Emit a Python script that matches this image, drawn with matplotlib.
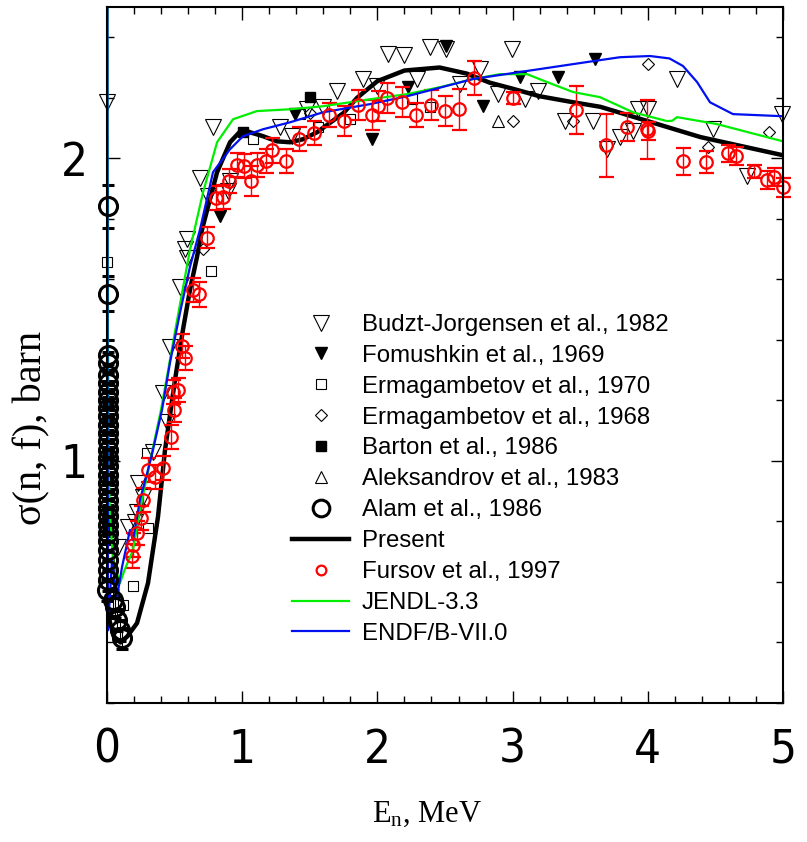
import os
import matplotlib
matplotlib.use("Agg")
import matplotlib.pyplot as plt
from matplotlib.lines import Line2D
from matplotlib.ticker import MultipleLocator
from matplotlib import font_manager

# --- data (E in MeV, sigma in barn) ---
present_e = [0.02, 0.05, 0.10, 0.15, 0.222, 0.303, 0.377, 0.429, 0.503, 0.562, 0.614, 0.666,
             0.703, 0.814, 0.91, 1.0, 1.058, 1.154, 1.257, 1.354, 1.45, 1.553, 1.75, 1.85,
             2.0, 2.2, 2.46, 2.66, 2.83, 3.0, 3.2, 3.45, 3.65, 4.02, 4.39, 5.0]
present_xs = [0.47, 0.42, 0.40, 0.42, 0.464, 0.596, 0.815, 1.036, 1.268, 1.434, 1.566, 1.675,
              1.765, 1.954, 2.053, 2.096, 2.086, 2.073, 2.056, 2.053, 2.063, 2.086, 2.15, 2.20,
              2.255, 2.29, 2.30, 2.28, 2.25, 2.23, 2.205, 2.185, 2.17, 2.12, 2.07, 2.01]

jendl_e = [0.003, 0.005, 0.010, 0.022, 0.044, 0.096, 0.13, 0.192, 0.244, 0.30, 0.40, 0.50,
           0.614, 0.71, 0.814, 0.932, 1.109, 1.354, 1.598, 1.945, 2.219, 2.463, 2.707, 2.907,
           3.107, 3.254, 3.447, 3.646, 3.891, 4.142, 4.18, 4.216, 4.512, 5.0]
jendl_xs = [2.6, 1.6, 1.0, 0.828, 0.672, 0.596, 0.64, 0.705, 0.838, 0.96, 1.17, 1.42,
            1.699, 1.887, 2.053, 2.129, 2.156, 2.162, 2.172, 2.195, 2.212, 2.235, 2.262, 2.278,
            2.278, 2.252, 2.219, 2.202, 2.152, 2.123, 2.124, 2.136, 2.113, 2.056]

endf_e = [0.003, 0.004, 0.007, 0.037, 0.074, 0.111, 0.17, 0.192, 0.244, 0.303, 0.34, 0.407,
          0.466, 0.54, 0.614, 0.688, 0.784, 0.91, 1.006, 1.154, 1.354, 1.598, 1.945, 2.219,
          2.707, 3.203, 3.595, 3.794, 4.016, 4.16, 4.26, 4.364, 4.46, 4.63, 5.0]
endf_xs = [2.6, 1.2, 0.44, 0.672, 0.55, 0.649, 0.772, 0.738, 0.871, 0.97, 1.036, 1.169,
           1.325, 1.49, 1.642, 1.765, 1.954, 2.03, 2.073, 2.096, 2.119, 2.152, 2.179, 2.205,
           2.262, 2.295, 2.321, 2.334, 2.338, 2.33, 2.305, 2.252, 2.185, 2.146, 2.139]

budzt_e = [0.0, 0.784, 0.688, 0.747, 0.895, 0.592, 0.577, 0.592, 0.540, 0.466, 0.414, 0.444,
           0.340, 0.229, 0.266, 0.222, 0.207, 0.155, 0.081, 0.910, 1.280, 1.368, 1.479, 1.598,
           1.701, 1.893, 1.997, 2.078, 2.197, 2.293, 2.389, 2.507, 2.611, 2.759, 2.892, 2.996,
           3.092, 3.188, 3.388, 3.595, 3.698, 3.794, 3.891, 3.928, 4.001, 4.216, 4.482, 4.734, 4.993]
budzt_xs = [2.185, 2.103, 1.934, 1.874, 1.891, 1.732, 1.699, 1.672, 1.576, 1.377, 1.225, 1.129,
            1.030, 0.927, 0.881, 0.831, 0.798, 0.781, 0.715, 1.924, 2.103, 2.073, 2.162, 2.169,
            2.222, 2.262, 2.238, 2.344, 2.341, 2.262, 2.368, 2.361, 2.245, 2.295, 2.212, 2.361,
            2.195, 2.222, 2.123, 2.123, 2.030, 2.070, 2.089, 2.162, 2.162, 2.262, 2.096, 1.940, 2.146]

fomushkin_e = [0.836, 1.39, 1.96, 2.226, 2.507, 2.781, 3.055, 3.336, 3.609]
fomushkin_xs = [1.808, 2.146, 2.063, 2.235, 2.371, 2.172, 2.268, 2.268, 2.328]

erma70_e = [0.0, 0.769, 0.118, 0.192, 0.303, 0.296, 1.080, 1.428, 1.561, 1.797, 2.256, 2.389]
erma70_xs = [1.656, 1.626, 0.523, 0.586, 0.778, 1.026, 2.063, 2.146, 2.103, 2.129, 2.195, 2.169]

erma68_e = [0.710, 1.50, 3.003, 3.447, 4.001, 4.445, 4.896]
erma68_xs = [1.699, 2.15, 2.123, 2.123, 2.311, 2.036, 2.086]

barton_e = [1.006, 1.502]
barton_xs = [2.086, 2.202]

aleks_e = [2.892]
aleks_xs = [2.123]

alam_e = [0.004, 0.004, 0.004, 0.004, 0.004, 0.004, 0.004, 0.004, 0.004, 0.004, 0.004, 0.004,
          0.004, 0.004, 0.004, 0.004, 0.004, 0.004, 0.004, 0.004, 0.004, 0.004, 0.004, 0.004,
          0.004, 0.004, 0.004, 0.004, 0.004, 0.002, 0.044, 0.059, 0.074, 0.096, 0.111]
alam_xs = [1.841, 1.553, 1.351, 1.325, 1.285, 1.258, 1.228, 1.202, 1.175, 1.149, 1.119, 1.093,
           1.066, 1.036, 1.010, 0.983, 0.954, 0.927, 0.901, 0.871, 0.844, 0.818, 0.788, 0.762,
           0.735, 0.705, 0.672, 0.639, 0.606, 0.573, 0.540, 0.517, 0.474, 0.440, 0.414]
alam_err = [0.07, 0.058, 0.05] + [0.035] * 32

fursov_e = [0.185, 0.192, 0.222, 0.251, 0.266, 0.303, 0.355, 0.414, 0.473, 0.488, 0.496, 0.525,
            0.555, 0.577, 0.636, 0.68, 0.74, 0.806, 0.858, 0.902, 0.962, 1.013, 1.065, 1.109,
            1.176, 1.22, 1.324, 1.42, 1.531, 1.642, 1.753, 1.857, 1.96, 2.004, 2.071, 2.182,
            2.285, 2.396, 2.5, 2.604, 2.714, 3.003, 3.469, 3.691, 3.846, 3.994, 4.0, 4.26,
            4.43, 4.593, 4.652, 4.786, 4.882, 4.933, 5.0]
fursov_xs = [0.685, 0.722, 0.762, 0.811, 0.871, 0.970, 0.947, 0.977, 1.079, 1.228, 1.169, 1.235,
             1.381, 1.341, 1.566, 1.550, 1.738, 1.868, 1.871, 1.924, 1.977, 1.974, 1.924, 1.977,
             1.990, 2.026, 1.990, 2.063, 2.083, 2.142, 2.123, 2.175, 2.142, 2.172, 2.199, 2.185,
             2.142, 2.175, 2.156, 2.162, 2.265, 2.199, 2.159, 2.043, 2.103, 2.096, 2.089, 1.990,
             1.987, 2.017, 2.007, 1.957, 1.927, 1.937, 1.904]
fursov_err = [0.04, 0.04, 0.04, 0.04, 0.04, 0.04, 0.04, 0.04, 0.04, 0.04, 0.04, 0.04,
              0.04, 0.04, 0.04, 0.04, 0.035, 0.04, 0.04, 0.04, 0.04, 0.04, 0.05, 0.04,
              0.04, 0.04, 0.04, 0.04, 0.04, 0.04, 0.05, 0.05, 0.05, 0.05, 0.05, 0.05,
              0.04, 0.05, 0.05, 0.068, 0.056, 0.02, 0.08, 0.105, 0.047, 0.097, 0.03, 0.045,
              0.036, 0.028, 0.03, 0.022, 0.03, 0.03, 0.031]

labels = ["Budzt-Jorgensen et al., 1982", "Fomushkin et al., 1969", "Ermagambetov et al., 1970",
          "Ermagambetov et al., 1968", "Barton et al., 1986", "Aleksandrov et al., 1983",
          "Alam et al., 1986", "Present", "Fursov et al., 1997", "JENDL-3.3", "ENDF/B-VII.0"]

# narrow regular font for the big tick numbers if one is around
tick_prop = font_manager.FontProperties(family="Liberation Sans")
for f in font_manager.fontManager.ttflist:
    base = os.path.basename(f.fname)
    if base in ("LiberationSansNarrow-Regular.ttf", "DejaVuSansCondensed.ttf"):
        tick_prop = font_manager.FontProperties(fname=f.fname)
        if base.startswith("Liberation"):
            break

plt.rcParams["font.family"] = "Liberation Sans"
plt.rcParams["mathtext.fontset"] = "custom"
plt.rcParams["mathtext.rm"] = "Liberation Serif"
plt.rcParams["mathtext.it"] = "Liberation Serif:italic"

fig = plt.figure(figsize=(8.07, 8.42), dpi=100)
ax = fig.add_axes([0.1326, 0.1651, 0.8377, 0.8266])

ax.plot(budzt_e, budzt_xs, "v", ms=11.5, mfc="none", mec="black", mew=0.8, clip_on=False)
ax.plot(fomushkin_e, fomushkin_xs, "v", ms=8.5, color="black", clip_on=False)
ax.plot(erma70_e, erma70_xs, "s", ms=7, mfc="none", mec="black", mew=0.8, clip_on=False)
ax.plot(erma68_e, erma68_xs, "D", ms=6.5, mfc="none", mec="black", mew=0.8, clip_on=False)
ax.plot(barton_e, barton_xs, "s", ms=7, color="black", clip_on=False)
ax.plot(aleks_e, aleks_xs, "^", ms=8, mfc="none", mec="black", mew=0.8, clip_on=False)
ax.errorbar(alam_e, alam_xs, yerr=alam_err, fmt="o", ms=13, mfc="none", mec="black", mew=2.2,
            ecolor="black", elinewidth=0.8, capsize=4.3, capthick=0.8, clip_on=False)
ax.plot(present_e, present_xs, "-", color="black", lw=3.2)
ax.errorbar(fursov_e, fursov_xs, yerr=fursov_err, fmt="o", ms=9, mfc="none", mec="red", mew=1.6,
            ecolor="red", elinewidth=1.0, capsize=5.4, capthick=1.0, clip_on=False)
ax.plot(jendl_e, jendl_xs, "-", color="#00ee00", lw=1.6)
ax.plot(endf_e, endf_xs, "-", color="#0010ee", lw=1.6)

ax.set_xlim(0, 5)
ax.set_ylim(0.2, 2.5)
ax.xaxis.set_major_locator(MultipleLocator(1))
ax.xaxis.set_minor_locator(MultipleLocator(0.2))
ax.yaxis.set_major_locator(MultipleLocator(1))
ax.yaxis.set_minor_locator(MultipleLocator(0.2))
ax.tick_params(which="both", direction="in", top=True, right=True, width=1.0)
ax.tick_params(which="major", length=9)
ax.tick_params(which="minor", length=5)
ax.tick_params(axis="x", which="major", pad=18)
ax.tick_params(axis="y", which="major", pad=14)
for lab in ax.get_xticklabels() + ax.get_yticklabels():
    lab.set_fontproperties(tick_prop)
    lab.set_fontsize(34)
for sp in ax.spines.values():
    sp.set_linewidth(1.5)

ax.set_xlabel(r"E$_{\rm n}$, MeV", family="Liberation Serif", fontsize=22)
ax.xaxis.set_label_coords(0.473, -0.139)
ax.set_ylabel("σ(n, f), barn", family="Liberation Serif", fontsize=29)
ax.yaxis.set_label_coords(-0.084, 0.395)

handles = [
    Line2D([], [], ls="none", marker="v", ms=11, mfc="none", mec="black", mew=0.8),
    Line2D([], [], ls="none", marker="v", ms=8, color="black"),
    Line2D([], [], ls="none", marker="s", ms=6.5, mfc="none", mec="black", mew=0.8),
    Line2D([], [], ls="none", marker="D", ms=6.3, mfc="none", mec="black", mew=0.8),
    Line2D([], [], ls="none", marker="s", ms=6.5, color="black"),
    Line2D([], [], ls="none", marker="^", ms=8, mfc="none", mec="black", mew=0.8),
    Line2D([], [], ls="none", marker="o", ms=12, mfc="none", mec="black", mew=2.2),
    Line2D([], [], color="black", lw=3.2),
    Line2D([], [], ls="none", marker="o", ms=7, mfc="none", mec="red", mew=1.6),
    Line2D([], [], color="#00ee00", lw=1.6),
    Line2D([], [], color="#0010ee", lw=1.6),
]
ax.legend(handles, labels, loc="upper left", bbox_to_anchor=(0.2737, 0.559), frameon=False,
          fontsize=17.3, handlelength=2.37, handletextpad=0.54, labelspacing=0.37,
          borderpad=0, borderaxespad=0)

fig.savefig("out.png", dpi=100)
